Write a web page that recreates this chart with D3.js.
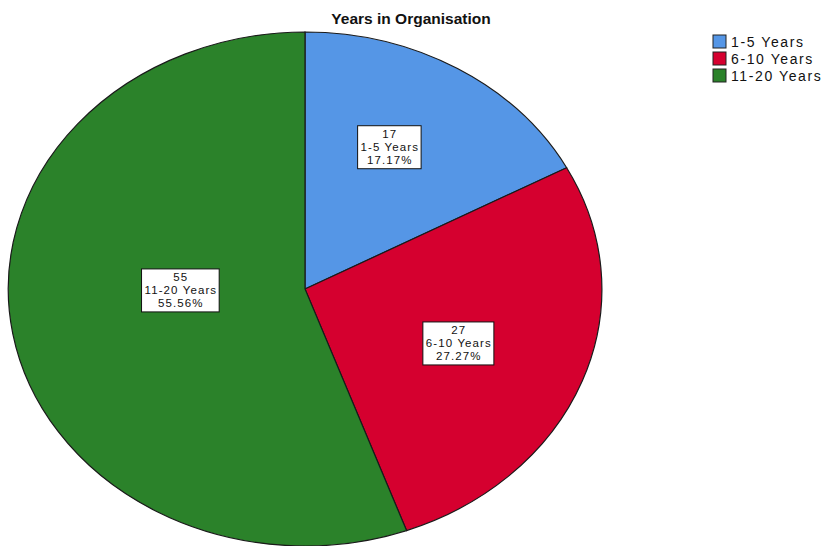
<!DOCTYPE html>
<html>
<head>
<meta charset="utf-8">
<script src="https://cdn.jsdelivr.net/npm/d3@7"></script>
<style>
  body { margin: 0; background: #fff; }
  svg { display: block; font-family: "Liberation Sans", Arial, sans-serif; }
</style>
</head>
<body>
<div id="chart"></div>
<script>
const categories = ["1-5 Years", "6-10 Years", "11-20 Years"];
const counts = [17, 27, 55];
const percents = ["17.17%", "27.27%", "55.56%"];
const colors = ["#5596E6", "#D5002F", "#2B822A"];

const width = 823, height = 546;
const cx = 305, cy = 289, rx = 297, ry = 257;

// label placement in unit-circle space (fraction of radius, angle tweak)
const labelRadius = [0.623, 0.559, 0.418];
const labelAngleShift = [-0.063, 0.02, 0.166];

const svg = d3.select("#chart").append("svg")
    .attr("width", width)
    .attr("height", height);

const pie = d3.pie().sort(null).value(d => d.count);
const arc = d3.arc().innerRadius(0).outerRadius(1);

const data = categories.map((c, i) => ({ name: c, count: counts[i], pct: percents[i], color: colors[i] }));
const arcs = pie(data);

const g = svg.append("g")
    .attr("transform", `translate(${cx},${cy}) scale(${rx},${ry})`);

g.selectAll("path")
    .data(arcs)
    .enter().append("path")
    .attr("d", arc)
    .attr("fill", d => d.data.color)
    .attr("stroke", "#1a1a1a")
    .attr("stroke-width", 1.2)
    .attr("vector-effect", "non-scaling-stroke");

// labels
const labels = svg.append("g");
arcs.forEach((d, i) => {
    const a = (d.startAngle + d.endAngle) / 2 + labelAngleShift[i];
    const x = cx + rx * labelRadius[i] * Math.sin(a);
    const y = cy - ry * labelRadius[i] * Math.cos(a);
    const lg = labels.append("g").attr("transform", `translate(${x},${y})`);
    const lines = [String(d.data.count), d.data.name, d.data.pct];
    const t = lg.append("text")
        .attr("text-anchor", "middle")
        .style("font-size", "11.5px")
        .style("letter-spacing", "1.1px")
        .attr("fill", "#111");
    lines.forEach((s, k) => {
        t.append("tspan")
            .attr("x", 0)
            .attr("y", -9 + k * 13)
            .text(s);
    });
    const bb = t.node().getBBox();
    lg.insert("rect", "text")
        .attr("x", bb.x - 3)
        .attr("y", -21)
        .attr("width", bb.width + 5)
        .attr("height", 43)
        .attr("fill", "#fff")
        .attr("stroke", "#111")
        .attr("stroke-width", 1);
});

// title
svg.append("text")
    .attr("x", 411)
    .attr("y", 24)
    .attr("text-anchor", "middle")
    .style("font-size", "15.5px")
    .style("font-weight", "bold")
    .attr("fill", "#111")
    .text("Years in Organisation");

// legend
const legend = svg.append("g").attr("transform", "translate(713,35)");
const li = legend.selectAll("g")
    .data(data)
    .enter().append("g")
    .attr("transform", (d, i) => `translate(0,${i * 17})`);
li.append("rect")
    .attr("width", 13)
    .attr("height", 13)
    .attr("fill", d => d.color)
    .attr("stroke", "#222")
    .attr("stroke-width", 1);
li.append("text")
    .attr("x", 18)
    .attr("y", 11.5)
    .style("font-size", "14px")
    .style("letter-spacing", "1.6px")
    .attr("fill", "#111")
    .text(d => d.name);
</script>
</body>
</html>
